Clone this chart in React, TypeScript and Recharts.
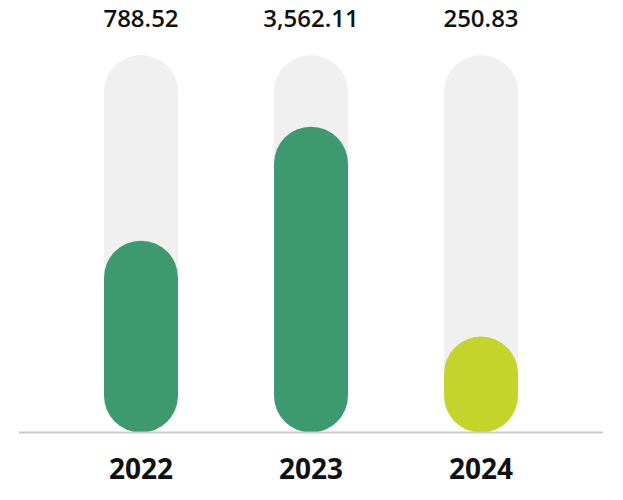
import React from "react";
import { BarChart, Bar, XAxis, YAxis, LabelList } from "recharts";

const years = ["2022", "2023", "2024"];
const valueLabels = ["788.52", "3,562.11", "250.83"];
const levels = [50.8, 81.0, 25.4];
const barColors = ["#3d9970", "#3d9970", "#c4d42b"];
const MAX_LEVEL = 100;

const data = years.map((year, i) => ({
  year,
  level: levels[i],
  label: valueLabels[i],
  color: barColors[i],
}));

const FONT = "'Open Sans', 'Noto Sans', sans-serif";

const PillShape = (props: any) => {
  const { x, y, width, height, payload } = props;
  if (!height || height <= 0) return null;
  const r = Math.min(width / 2, height / 2);
  return <rect x={x} y={y} width={width} height={height} rx={r} ry={r} fill={payload.color} />;
};

const BgShape = (props: any) => {
  const { x, y, width, height } = props;
  const r = Math.min(width / 2, height / 2);
  return <rect x={x} y={y} width={width} height={height} rx={r} ry={r} fill="#f0f0f0" />;
};

const TopLabel = (props: any) => {
  const { x, width, value } = props;
  return (
    <text
      x={x + width / 2}
      y={27}
      textAnchor="middle"
      fontFamily={FONT}
      fontWeight={600}
      fontSize={24}
      fill="#111111"
    >
      {value}
    </text>
  );
};

export default function App() {
  return (
    <div style={{ position: "absolute", left: 0, top: 0, width: 623, height: 500, background: "#ffffff" }}>
      <BarChart
        width={623}
        height={500}
        data={data}
        margin={{ top: 55, right: 20, bottom: 37.5, left: 19 }}
      >
        <XAxis
          dataKey="year"
          padding={{ left: 37, right: 37 }}
          axisLine={{ stroke: "#cccccc", strokeWidth: 2 }}
          tickLine={false}
          tickMargin={21}
          tick={{ fontFamily: FONT, fontWeight: 700, fontSize: 28, fill: "#111111" }}
        />
        <YAxis hide domain={[0, MAX_LEVEL]} />
        <Bar
          dataKey="level"
          barSize={74}
          isAnimationActive={false}
          background={<BgShape />}
          shape={<PillShape />}
        >
          <LabelList dataKey="label" content={<TopLabel />} />
        </Bar>
      </BarChart>
    </div>
  );
}
